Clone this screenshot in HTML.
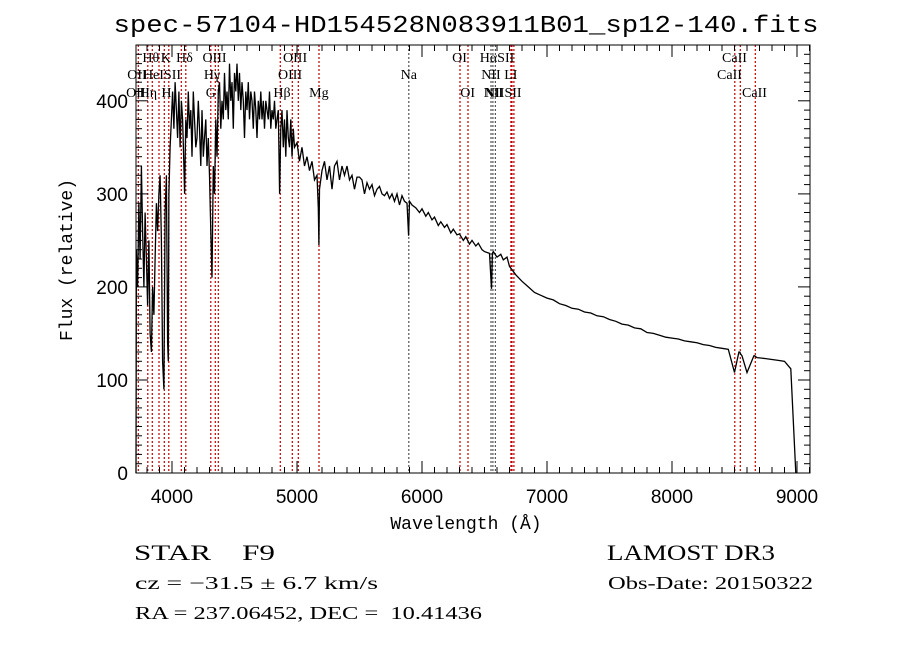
<!DOCTYPE html>
<html><head><meta charset="utf-8"><style>
html,body{margin:0;padding:0;background:#fff;}
svg{display:block;}
text{fill:#000;}
</style></head><body>
<svg id="chart" width="900" height="649" viewBox="0 0 900 649" xmlns="http://www.w3.org/2000/svg">
<rect width="900" height="649" fill="#fff"/>
<text x="466" y="32" font-family="Liberation Mono, monospace" font-size="24" text-anchor="middle" textLength="705" lengthAdjust="spacingAndGlyphs">spec-57104-HD154528N083911B01_sp12-140.fits</text>
<g id="lines"></g>
<g id="labels"></g>
<path id="spec" fill="none" stroke="#000" stroke-width="1.3"/>
<rect x="136" y="45" width="674" height="428" fill="none" stroke="#000" stroke-width="1"/>
<g id="axes"></g>
<text x="466" y="529" font-family="Liberation Mono, monospace" font-size="18" text-anchor="middle">Wavelength (Å)</text>
<text x="0" y="0" transform="translate(72,260) rotate(-90)" font-family="Liberation Mono, monospace" font-size="18" text-anchor="middle">Flux (relative)</text>
<text x="134" y="560" font-family="Liberation Serif, serif" font-size="22" textLength="141" lengthAdjust="spacingAndGlyphs" style="white-space:pre">STAR    F9</text>
<text x="607" y="560" font-family="Liberation Serif, serif" font-size="22" textLength="168" lengthAdjust="spacingAndGlyphs">LAMOST DR3</text>
<text x="135" y="589" font-family="Liberation Serif, serif" font-size="18" textLength="243" lengthAdjust="spacingAndGlyphs">cz = −31.5 ± 6.7 km/s</text>
<text x="608" y="589" font-family="Liberation Serif, serif" font-size="18" textLength="205" lengthAdjust="spacingAndGlyphs">Obs-Date: 20150322</text>
<text x="135" y="619" font-family="Liberation Serif, serif" font-size="18" textLength="347" lengthAdjust="spacingAndGlyphs" style="white-space:pre">RA = 237.06452, DEC =  10.41436</text>
</svg>
<script>
const wavelengths = [3712,3715,3725,3735,3745,3755,3765,3775,3785,3795,3805,3815,3825,3835,3845,3855,3865,3875,3885,3895,3905,3915,3925,3935,3945,3955,3965,3970,3975,3985,3995,4005,4015,4025,4035,4045,4055,4065,4075,4085,4095,4101,4110,4120,4130,4140,4150,4160,4170,4180,4190,4200,4210,4220,4230,4240,4250,4260,4270,4280,4290,4300,4310,4320,4330,4340,4350,4360,4370,4380,4390,4400,4410,4420,4430,4440,4450,4460,4470,4480,4490,4500,4510,4520,4530,4540,4550,4560,4570,4580,4590,4600,4610,4620,4630,4640,4650,4660,4670,4680,4690,4700,4710,4720,4730,4740,4750,4760,4770,4780,4790,4800,4810,4820,4830,4840,4850,4861,4870,4880,4890,4900,4910,4920,4930,4940,4950,4960,4970,4980,5000,5020,5040,5060,5080,5100,5120,5140,5160,5170,5175,5180,5200,5220,5240,5260,5280,5300,5320,5340,5360,5380,5400,5420,5440,5460,5480,5500,5520,5540,5560,5580,5600,5620,5640,5660,5680,5700,5720,5740,5760,5780,5800,5820,5840,5860,5880,5893,5900,5920,5950,5980,6000,6030,6050,6080,6100,6130,6150,6180,6200,6230,6250,6280,6300,6330,6350,6380,6400,6430,6450,6480,6500,6540,6556,6563,6570,6600,6630,6650,6680,6700,6750,6800,6850,6900,6950,7000,7050,7100,7150,7200,7250,7300,7350,7400,7450,7500,7550,7600,7650,7700,7750,7800,7850,7900,7950,8000,8050,8100,8150,8200,8250,8300,8350,8400,8450,8500,8535,8542,8549,8560,8600,8655,8662,8669,8680,8750,8800,8850,8900,8950,8990,9000,9005];
const fluxValues = [0,240,200,290,230,330,260,200,280,230,180,250,150,130,200,170,230,290,260,300,320,250,120,90,280,320,140,120,300,350,380,410,370,420,390,360,410,350,400,380,330,300,380,360,410,370,390,340,410,380,350,360,400,370,330,390,340,360,380,330,360,320,260,210,330,300,380,340,410,420,370,400,380,430,390,410,380,440,400,420,370,430,410,440,400,430,390,420,400,360,410,390,420,380,410,400,370,410,390,360,400,380,410,380,400,370,400,390,380,410,370,390,380,400,370,380,390,300,370,390,350,380,340,390,360,350,380,340,370,350,355,335,350,330,340,325,335,315,320,285,245,305,325,335,315,330,305,330,335,315,330,320,330,315,320,305,318,318,315,300,312,305,310,298,305,308,300,298,302,295,300,292,300,288,298,292,290,255,292,288,285,280,284,276,280,272,275,266,270,264,267,258,262,256,257,250,254,246,250,244,247,240,238,236,198,236,238,232,235,229,232,222,213,206,200,194,191,188,186,182,180,177,176,173,172,169,168,165,163,160,159,156,155,151,150,148,146,145,144,142,141,140,138,137,135,134,133,108,130,130,128,126,108,126,126,125,124,123,122,121,120,112,0];

const lineWaves = [3730,3806,3842,3896,3938,3974,4074,4110,4310,4346,4370,4866,4962,5010,5176,5894,6304,6368,6552,6567,6587,6711,6720,6735,8502,8546,8666];
const lineColors = ['r','r','r','r','r','r','r','r','r','r','r','r','r','r','r','g','r','r','g','g','g','r','r','r','r','r','r'];
const labelTexts = ['Hθ','K','Hδ','OIII','OIII','OI','HαSII','CaII','OII','HeISII','Hγ','OIII','Na','NII','LI','CaII','OII','Hη','H','G','Hβ','Mg','OI','NII','NIISII','CaII'];
const labelWaves = [3830,3950,4100,4340,4985,6300,6600,8500,3720,3920,4320,4945,5894,6552,6710,8460,3710,3810,3955,4310,4880,5175,6365,6570,6650,8660];
const labelRows = [0,0,0,0,0,0,0,0,1,1,1,1,1,1,1,1,2,2,2,2,2,2,2,2,2,2];

const xTicks = [4000,5000,6000,7000,8000,9000];
const yTicks = [0,100,200,300,400];

const X0=136,X1=810,Y0=473,Y1=45, WMIN=3712, WMAX=9104, FMIN=0, FMAX=460;
function xs(w){return X0+(w-WMIN)/(WMAX-WMIN)*(X1-X0);}
function ys(f){return Y0-(f-FMIN)/(FMAX-FMIN)*(Y0-Y1);}
const NS='http://www.w3.org/2000/svg';
function mk(tag,attrs,parent){const e=document.createElementNS(NS,tag);for(const k in attrs)e.setAttribute(k,attrs[k]);parent.appendChild(e);return e;}

let d='';
for(let i=0;i<wavelengths.length;i++){d+=(i?'L':'M')+xs(wavelengths[i]).toFixed(1)+','+ys(fluxValues[i]).toFixed(1);}
document.getElementById('spec').setAttribute('d',d);

const lg=document.getElementById('lines');
for(let i=0;i<lineWaves.length;i++){
  const x=xs(lineWaves[i]).toFixed(1);
  const l=mk('line',{x1:x,x2:x,y1:Y1,y2:Y0,stroke:lineColors[i]==='r'?'#c00000':'#555','stroke-width':1.2,'stroke-dasharray':'2,2'},lg);
  
  
}
const lb=document.getElementById('labels');
const rowY=[62,79,97];
for(let i=0;i<labelTexts.length;i++){
  const t=mk('text',{x:xs(labelWaves[i]).toFixed(1),y:rowY[labelRows[i]],'font-family':'Liberation Serif, serif','font-size':14,'text-anchor':'middle'},lb);
  t.textContent=labelTexts[i];
  
  
}
const ax=document.getElementById('axes');
for(let w=3800;w<=9100;w+=100){
  const x=xs(w).toFixed(1);const major=(w%1000===0);const L=major?12:6;
  mk('line',{x1:x,x2:x,y1:Y0,y2:Y0-L,stroke:'#000','stroke-width':1},ax);
  mk('line',{x1:x,x2:x,y1:Y1,y2:Y1+L,stroke:'#000','stroke-width':1},ax);
}
for(let f=0;f<=460;f+=10){
  const y=ys(f).toFixed(1);const major=(f%100===0);const L=major?12:6;
  mk('line',{x1:X0,x2:X0+L,y1:y,y2:y,stroke:'#000','stroke-width':1},ax);
  mk('line',{x1:X1,x2:X1-L,y1:y,y2:y,stroke:'#000','stroke-width':1},ax);
}
for(const w of xTicks){
  const t=mk('text',{x:xs(w).toFixed(1),y:503,'font-family':'Liberation Sans, sans-serif','font-size':19,'text-anchor':'middle'},ax);
  t.textContent=String(w);
  
  
}
for(const f of yTicks){
  const t=mk('text',{x:128,y:(ys(f)+7).toFixed(1),'font-family':'Liberation Sans, sans-serif','font-size':19,'text-anchor':'end'},ax);
  t.textContent=String(f);
  
  
}
</script>
</body></html>
